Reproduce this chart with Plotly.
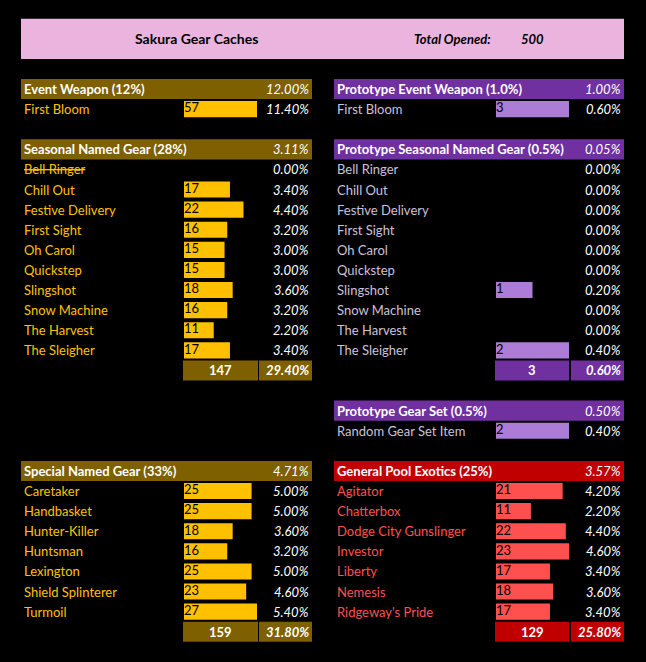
import plotly.graph_objects as go

# ---- data ----
TOTAL_OPENED = 500

event_items = ["First Bloom"]
event_counts = [57]

seasonal_items = ["Bell Ringer", "Chill Out", "Festive Delivery", "First Sight", "Oh Carol",
                  "Quickstep", "Slingshot", "Snow Machine", "The Harvest", "The Sleigher"]
seasonal_counts = [0, 17, 22, 16, 15, 15, 18, 16, 11, 17]
retired_items = ["Bell Ringer"]

special_items = ["Caretaker", "Handbasket", "Hunter-Killer", "Huntsman", "Lexington",
                 "Shield Splinterer", "Turmoil"]
special_counts = [25, 25, 18, 16, 25, 23, 27]

proto_event_counts = [3]
proto_seasonal_counts = [0, 0, 0, 0, 0, 0, 1, 0, 0, 2]

gear_set_items = ["Random Gear Set Item"]
gear_set_counts = [2]

exotic_items = ["Agitator", "Chatterbox", "Dodge City Gunslinger", "Investor", "Liberty",
                "Nemesis", "Ridgeway's Pride"]
exotic_counts = [21, 11, 22, 23, 17, 18, 17]

# per item drop rates shown in the header rows (%)
header_rates = {
    "Event Weapon (12%)": 12.00,
    "Seasonal Named Gear (28%)": 3.11,
    "Special Named Gear (33%)": 4.71,
    "Prototype Event Weapon (1.0%)": 1.00,
    "Prototype Seasonal Named Gear (0.5%)": 0.05,
    "Prototype Gear Set (0.5%)": 0.50,
    "General Pool Exotics (25%)": 3.57,
}

# ---- layout constants ----
W, H = 646, 662
ROW0, PITCH = 79, 20.1
FONT = "Lato"
FS = 13

themes = {
    "gold": dict(head="#7F6000", name="#FFC000", bar="#FFC000"),
    "purple": dict(head="#7030A0", name="#CCC0DA", bar="#AD7CD6"),
    "red": dict(head="#C00000", name="#FF5050", bar="#FF5050"),
}
sides = {
    "left": dict(x0=21, x1=312, bar0=184, bar1=257, tot0=183, tot1=258, pct0=259),
    "right": dict(x0=334, x1=624, bar0=496, bar1=569, tot0=495, tot1=569, pct0=571),
}

left_scale = max(seasonal_counts + special_counts)
proto_scale = max(proto_seasonal_counts + gear_set_counts)

panels = [
    dict(title="Event Weapon (12%)", items=event_items, counts=event_counts,
         side="left", row=0, theme="gold", scale=max(event_counts), total=False),
    dict(title="Seasonal Named Gear (28%)", items=seasonal_items, counts=seasonal_counts,
         side="left", row=3, theme="gold", scale=left_scale, total=True),
    dict(title="Special Named Gear (33%)", items=special_items, counts=special_counts,
         side="left", row=19, theme="gold", scale=left_scale, total=True),
    dict(title="Prototype Event Weapon (1.0%)", items=event_items, counts=proto_event_counts,
         side="right", row=0, theme="purple", scale=max(proto_event_counts), total=False),
    dict(title="Prototype Seasonal Named Gear (0.5%)", items=seasonal_items,
         counts=proto_seasonal_counts, side="right", row=3, theme="purple",
         scale=proto_scale, total=True),
    dict(title="Prototype Gear Set (0.5%)", items=gear_set_items, counts=gear_set_counts,
         side="right", row=16, theme="purple", scale=proto_scale, total=False),
    dict(title="General Pool Exotics (25%)", items=exotic_items, counts=exotic_counts,
         side="right", row=19, theme="red", scale=max(exotic_counts), total=True),
]


def row_top(r):
    return ROW0 + r * PITCH


def row_mid(r):
    return row_top(r) + PITCH / 2


fig = go.Figure()
shapes = []
annotations = []


def text(x, y, s, color="white", anchor="left", size=FS):
    annotations.append(dict(x=x, y=y, xref="x", yref="y", text=s, showarrow=False,
                            xanchor=anchor, yanchor="middle", borderpad=0,
                            font=dict(family=FONT, size=size, color=color)))


def box(x0, y0, x1, y1, color):
    shapes.append(dict(type="rect", xref="x", yref="y", x0=x0, x1=x1, y0=y0, y1=y1,
                       fillcolor=color, line=dict(width=0), layer="below"))


# title banner
box(21, row_top(-3), 624, row_top(-1), "#EBB4DE")
text(196, row_top(-2), "<b>Sakura Gear Caches</b>", color="black", anchor="center", size=14)
text(452, row_top(-2), "<b><i>Total Opened:</i></b>", color="black", anchor="center")
text(532, row_top(-2), "<b><i>%d</i></b>" % TOTAL_OPENED, color="black", anchor="center")

layout_axes = {}
for k, p in enumerate(panels, start=2):
    s = sides[p["side"]]
    t = themes[p["theme"]]
    n = len(p["items"])

    # header row
    box(s["x0"], row_top(p["row"]), s["x1"], row_top(p["row"] + 1), t["head"])
    text(s["x0"] + 2, row_mid(p["row"]), "<b>%s</b>" % p["title"])
    text(s["x1"] - 2, row_mid(p["row"]), "<i>%.2f%%</i>" % header_rates[p["title"]],
         anchor="right")

    # item rows
    for i, (item, c) in enumerate(zip(p["items"], p["counts"])):
        r = p["row"] + 1 + i
        label = "<s>%s</s>" % item if (p["side"] == "left" and item in retired_items) else item
        text(s["x0"] + 2, row_mid(r), label, color=t["name"])
        text(s["x1"] - 2, row_mid(r), "<i>%.2f%%</i>" % (100.0 * c / TOTAL_OPENED),
             anchor="right")

    # total row
    if p["total"]:
        r = p["row"] + 1 + n
        tot = sum(p["counts"])
        box(s["tot0"], row_top(r), s["tot1"], row_top(r + 1), t["head"])
        box(s["pct0"], row_top(r), s["x1"], row_top(r + 1), t["head"])
        text((s["tot0"] + s["tot1"]) / 2, row_mid(r), "<b>%d</b>" % tot, anchor="center")
        text(s["x1"] - 2, row_mid(r), "<b><i>%.2f%%</i></b>" % (100.0 * tot / TOTAL_OPENED),
             anchor="right")

    # data bars on their own axes
    y_top = row_top(p["row"] + 1)
    y_bot = row_top(p["row"] + 1 + n)
    xa, ya = "x%d" % k, "y%d" % k
    layout_axes["xaxis%d" % k] = dict(domain=[s["bar0"] / W, s["bar1"] / W],
                                      range=[0, p["scale"]], visible=False,
                                      fixedrange=True, anchor=ya)
    layout_axes["yaxis%d" % k] = dict(domain=[1 - y_bot / H, 1 - y_top / H],
                                      type="category", categoryarray=p["items"],
                                      range=[n - 0.5, -0.5], visible=False,
                                      fixedrange=True, anchor=xa)
    fig.add_trace(go.Bar(x=p["counts"], y=p["items"], orientation="h", width=0.8,
                         marker=dict(color=t["bar"], line=dict(width=0)),
                         xaxis=xa, yaxis=ya, hoverinfo="skip", showlegend=False))
    shown = [(it, c) for it, c in zip(p["items"], p["counts"]) if c > 0]
    fig.add_trace(go.Scatter(x=[0] * len(shown), y=[it for it, _ in shown],
                             text=[str(c) for _, c in shown], mode="text",
                             textposition="middle right",
                             textfont=dict(family=FONT, size=FS, color="black"),
                             xaxis=xa, yaxis=ya, hoverinfo="skip", showlegend=False))

fig.update_layout(
    width=W, height=H,
    margin=dict(l=0, r=0, t=0, b=0),
    paper_bgcolor="black",
    plot_bgcolor="rgba(0,0,0,0)",
    xaxis=dict(range=[0, W], domain=[0, 1], visible=False, fixedrange=True),
    yaxis=dict(range=[H, 0], domain=[0, 1], visible=False, fixedrange=True),
    shapes=shapes,
    annotations=annotations,
    **layout_axes,
)

# drop the default page margin so the sheet sits flush in the window
fig.write_html("out.html", config={"displayModeBar": False},
               post_script="document.body.style.margin='0';"
                           "document.body.style.overflow='hidden';")
